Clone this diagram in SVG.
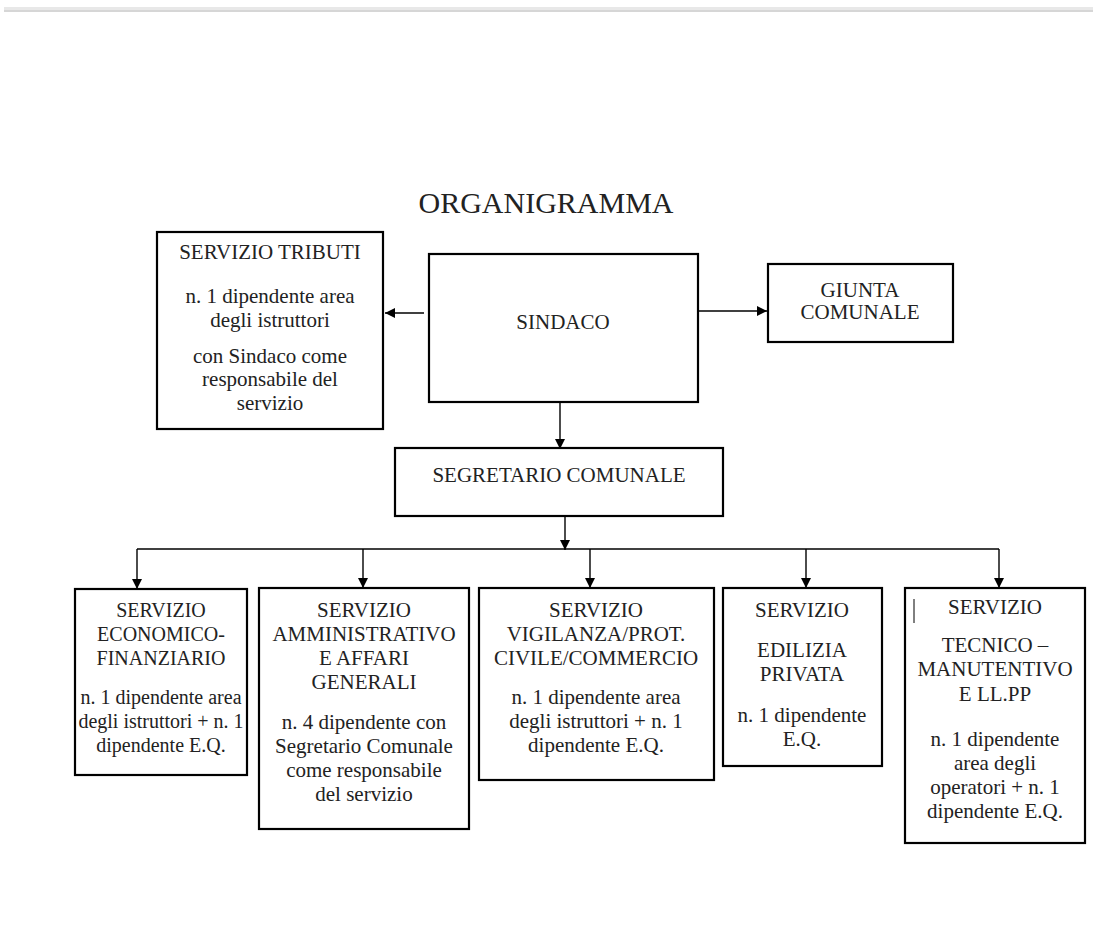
<svg xmlns="http://www.w3.org/2000/svg" width="1093" height="952" viewBox="0 0 1093 952">
<style>
.box{fill:#fff;stroke:#000;stroke-width:2.2}
.t{font-family:"Liberation Serif","Times New Roman",serif;font-size:21px;fill:#222;text-anchor:middle}
.s{font-size:20px}
.title{font-family:"Liberation Serif","Times New Roman",serif;font-size:30px;fill:#222;text-anchor:middle}
.c{fill:none;stroke:#000;stroke-width:1.4}
</style>
<defs>
<marker id="arr" viewBox="0 0 10 10" refX="10" refY="5" markerWidth="10" markerHeight="10" markerUnits="userSpaceOnUse" orient="auto">
<path d="M0,0 L10,5 L0,10 z" fill="#000"/>
</marker>
</defs>
<rect x="0" y="0" width="1093" height="952" fill="#fff"/>
<rect x="4" y="7" width="1089" height="3" fill="#e8e8e8"/>
<rect x="4" y="10" width="1089" height="2" fill="#d6d6d6"/>
<text class="title" x="546" y="213">ORGANIGRAMMA</text>

<g id="connectors">
<line class="c" x1="424" y1="313" x2="385" y2="313" marker-end="url(#arr)"/>
<line class="c" x1="698" y1="311" x2="767" y2="311" marker-end="url(#arr)"/>
<line class="c" x1="560" y1="402" x2="560" y2="449" marker-end="url(#arr)"/>
<line class="c" x1="565" y1="516" x2="565" y2="550" marker-end="url(#arr)"/>
<line class="c" x1="137" y1="549" x2="999" y2="549"/>
<line class="c" x1="137" y1="549" x2="137" y2="589" marker-end="url(#arr)"/>
<line class="c" x1="363" y1="549" x2="363" y2="588" marker-end="url(#arr)"/>
<line class="c" x1="590" y1="549" x2="590" y2="588" marker-end="url(#arr)"/>
<line class="c" x1="806" y1="549" x2="806" y2="588" marker-end="url(#arr)"/>
<line class="c" x1="999" y1="549" x2="999" y2="588" marker-end="url(#arr)"/>
</g>

<g id="tributi">
<rect class="box" x="157" y="232" width="226" height="197"/>
<text class="t" x="270" y="259">SERVIZIO TRIBUTI</text>
<text class="t" x="270" y="303">n. 1 dipendente area</text>
<text class="t" x="270" y="327">degli istruttori</text>
<text class="t" x="270" y="363">con Sindaco come</text>
<text class="t" x="270" y="386">responsabile del</text>
<text class="t" x="270" y="410">servizio</text>
</g>

<g id="sindaco">
<rect class="box" x="429" y="254" width="269" height="148"/>
<text class="t" x="563" y="329">SINDACO</text>
</g>

<g id="giunta">
<rect class="box" x="768" y="264" width="185" height="78"/>
<text class="t" x="860" y="297">GIUNTA</text>
<text class="t" x="860" y="319">COMUNALE</text>
</g>

<g id="segretario">
<rect class="box" x="395" y="448" width="328" height="68"/>
<text class="t" x="559" y="482">SEGRETARIO COMUNALE</text>
</g>

<g id="economico">
<rect class="box" x="75" y="589" width="172" height="186"/>
<text class="t s" x="161" y="617">SERVIZIO</text>
<text class="t s" x="161" y="641">ECONOMICO-</text>
<text class="t s" x="161" y="665">FINANZIARIO</text>
<text class="t s" x="161" y="704">n. 1 dipendente area</text>
<text class="t s" x="161" y="728">degli istruttori + n. 1</text>
<text class="t s" x="161" y="752">dipendente E.Q.</text>
</g>

<g id="amministrativo">
<rect class="box" x="259" y="588" width="210" height="241"/>
<text class="t" x="364" y="617">SERVIZIO</text>
<text class="t" x="364" y="641">AMMINISTRATIVO</text>
<text class="t" x="364" y="665">E AFFARI</text>
<text class="t" x="364" y="689">GENERALI</text>
<text class="t" x="364" y="729">n. 4 dipendente con</text>
<text class="t" x="364" y="753">Segretario Comunale</text>
<text class="t" x="364" y="777">come responsabile</text>
<text class="t" x="364" y="801">del servizio</text>
</g>

<g id="vigilanza">
<rect class="box" x="479" y="588" width="235" height="192"/>
<text class="t" x="596" y="617">SERVIZIO</text>
<text class="t" x="596" y="641">VIGILANZA/PROT.</text>
<text class="t" x="596" y="665">CIVILE/COMMERCIO</text>
<text class="t" x="596" y="704">n. 1 dipendente area</text>
<text class="t" x="596" y="728">degli istruttori + n. 1</text>
<text class="t" x="596" y="752">dipendente E.Q.</text>
</g>

<g id="edilizia">
<rect class="box" x="723" y="588" width="159" height="178"/>
<text class="t" x="802" y="617">SERVIZIO</text>
<text class="t" x="802" y="657">EDILIZIA</text>
<text class="t" x="802" y="681">PRIVATA</text>
<text class="t" x="802" y="722">n. 1 dipendente</text>
<text class="t" x="802" y="746">E.Q.</text>
</g>

<g id="tecnico">
<rect class="box" x="905" y="588" width="180" height="255"/>
<line x1="914" y1="599" x2="914" y2="623" stroke="#000" stroke-width="1"/>
<text class="t" x="995" y="614">SERVIZIO</text>
<text class="t" x="995" y="652">TECNICO –</text>
<text class="t" x="995" y="676">MANUTENTIVO</text>
<text class="t" x="995" y="701">E LL.PP</text>
<text class="t" x="995" y="746">n. 1 dipendente</text>
<text class="t" x="995" y="770">area degli</text>
<text class="t" x="995" y="794">operatori + n. 1</text>
<text class="t" x="995" y="818">dipendente E.Q.</text>
</g>
</svg>
